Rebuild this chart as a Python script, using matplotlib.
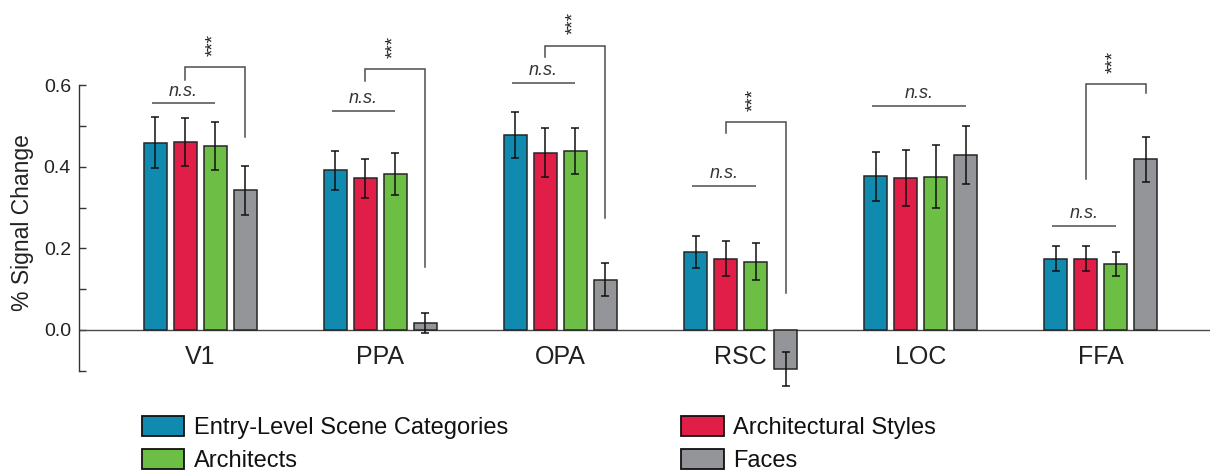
import matplotlib
matplotlib.use("Agg")
import matplotlib.pyplot as plt
from matplotlib.patches import Patch
from matplotlib import font_manager
import numpy as np

# ---------------- data ----------------
regions = ["V1", "PPA", "OPA", "RSC", "LOC", "FFA"]
series_names = ["Entry-Level Scene Categories", "Architectural Styles", "Architects", "Faces"]
entry_level = [0.459, 0.391, 0.478, 0.191, 0.377, 0.175]
arch_styles = [0.461, 0.372, 0.434, 0.175, 0.372, 0.175]
architects = [0.452, 0.383, 0.439, 0.167, 0.376, 0.162]
faces = [0.342, 0.017, 0.123, -0.096, 0.429, 0.418]
entry_err = [0.062, 0.048, 0.057, 0.039, 0.060, 0.030]
styles_err = [0.058, 0.048, 0.060, 0.042, 0.069, 0.031]
architects_err = [0.059, 0.052, 0.056, 0.045, 0.077, 0.030]
faces_err = [0.061, 0.024, 0.041, 0.042, 0.071, 0.056]
colors = ["#118AB0", "#E11E48", "#6DBE45", "#939598"]

y_major = [0.0, 0.2, 0.4, 0.6]
y_minor = [-0.1, 0.1, 0.3, 0.5]
y_ticklabels = ["0.0", "0.2", "0.4", "0.6"]

# n.s. annotations: (first bar, last bar, height)
ns_first = [0, 0, 0, 0, 0, 0]
ns_last = [2, 2, 2, 2, 3, 2]
ns_height = [0.556, 0.537, 0.606, 0.353, 0.549, 0.255]
# *** brackets: (top, left leg bottom, right leg bottom); None = no bracket
br_top = [0.644, 0.639, 0.697, 0.510, None, 0.602]
br_left = [0.613, 0.611, 0.670, 0.484, None, 0.371]
br_right = [0.472, 0.154, 0.275, 0.090, None, 0.580]

# ---------------- fonts ----------------
avail = {f.name for f in font_manager.fontManager.ttflist}
FAM = ["Liberation Sans Narrow", "Liberation Sans", "DejaVu Sans"]
FAM = [f for f in FAM if f in avail] + ["DejaVu Sans"]
plt.rcParams["font.family"] = FAM

# ---------------- figure ----------------
W, H = 1210, 476
fig = plt.figure(figsize=(W / 100, H / 100), dpi=100)
ax = fig.add_axes([79.3 / W, (H - 370.7) / H, (W - 79.3) / W, 370.7 / H])
ax.set_xlim(-0.673, 5.608)
ax.set_ylim(-0.1, 0.809)

values = [entry_level, arch_styles, architects, faces]
errs = [entry_err, styles_err, architects_err, faces_err]
x = np.arange(len(regions))
step = 30 / 180
bw = 0.128
offsets = (np.arange(4) - 1.5) * step

for i in range(4):
    bars = ax.bar(x + offsets[i], values[i], width=bw, color=colors[i],
                  edgecolor="#262626", linewidth=1.1, zorder=3)
    for b in bars:
        b.set_clip_on(False)
    eb = ax.errorbar(x + offsets[i], values[i], yerr=errs[i], fmt="none",
                     ecolor="#111111", elinewidth=1.1, capsize=3, capthick=1.1, zorder=4)
    for art in list(eb[1]) + list(eb[2]):
        art.set_clip_on(False)

ax.axhline(0, color="#4a4a4a", linewidth=1.0, zorder=2)

# spines / ticks
for s in ["top", "right", "bottom"]:
    ax.spines[s].set_visible(False)
ax.spines["left"].set_bounds(-0.1, 0.6)
ax.spines["left"].set_color("#333333")
ax.spines["left"].set_linewidth(1.0)
ax.set_yticks(y_major)
ax.set_yticklabels(y_ticklabels)
ax.set_yticks(y_minor, minor=True)
ax.tick_params(axis="y", which="both", direction="in", length=5, width=1.0,
               color="#333333", labelsize=14, pad=6, labelcolor="#222222")
ax.set_xticks([])
ax.set_ylabel("% Signal Change", fontsize=16.5, color="#222222")
ax.yaxis.set_label_coords(-0.040, 0.40)

# region labels
for xi, name in zip(x, regions):
    ax.text(xi, -0.066, name, ha="center", va="center", fontsize=18, color="#231f20")

# annotations
ann_col = "#4d4d4d"
for g in range(len(regions)):
    x0 = x[g] + offsets[ns_first[g]] - 0.02
    x1 = x[g] + offsets[ns_last[g]]
    y = ns_height[g]
    ax.plot([x0, x1], [y, y], color=ann_col, lw=1.1, solid_capstyle="butt", zorder=5)
    ax.text((x0 + x1) / 2, y + 0.009, "n.s.", ha="center", va="bottom",
            fontsize=13, style="italic", color="#333333")
    if br_top[g] is not None:
        bl = x[g] + offsets[1]
        brr = x[g] + offsets[3]
        t = br_top[g]
        ax.plot([bl, bl, brr, brr], [br_left[g], t, t, br_right[g]], color=ann_col,
                lw=1.1, solid_joinstyle="miter", zorder=5)
        ax.text((bl + brr) / 2 - 0.01, t + 0.028, "***", rotation=90, ha="center",
                va="bottom", fontsize=13.5, color="#222222")

# legend
handles = [Patch(facecolor=colors[i], edgecolor="#111111", linewidth=1.3) for i in range(4)]
order = [0, 2, 1, 3]
fig.legend([handles[i] for i in order], [series_names[i] for i in order],
           ncol=2, loc="upper left", bbox_to_anchor=(141.7 / W, (H - 416) / H),
           frameon=False, fontsize=17, handlelength=1.8, handleheight=0.95,
           handletextpad=0.4, columnspacing=7.35, labelspacing=0.4,
           borderpad=0, borderaxespad=0, labelcolor="#111111")

fig.savefig("out.png", dpi=100)
